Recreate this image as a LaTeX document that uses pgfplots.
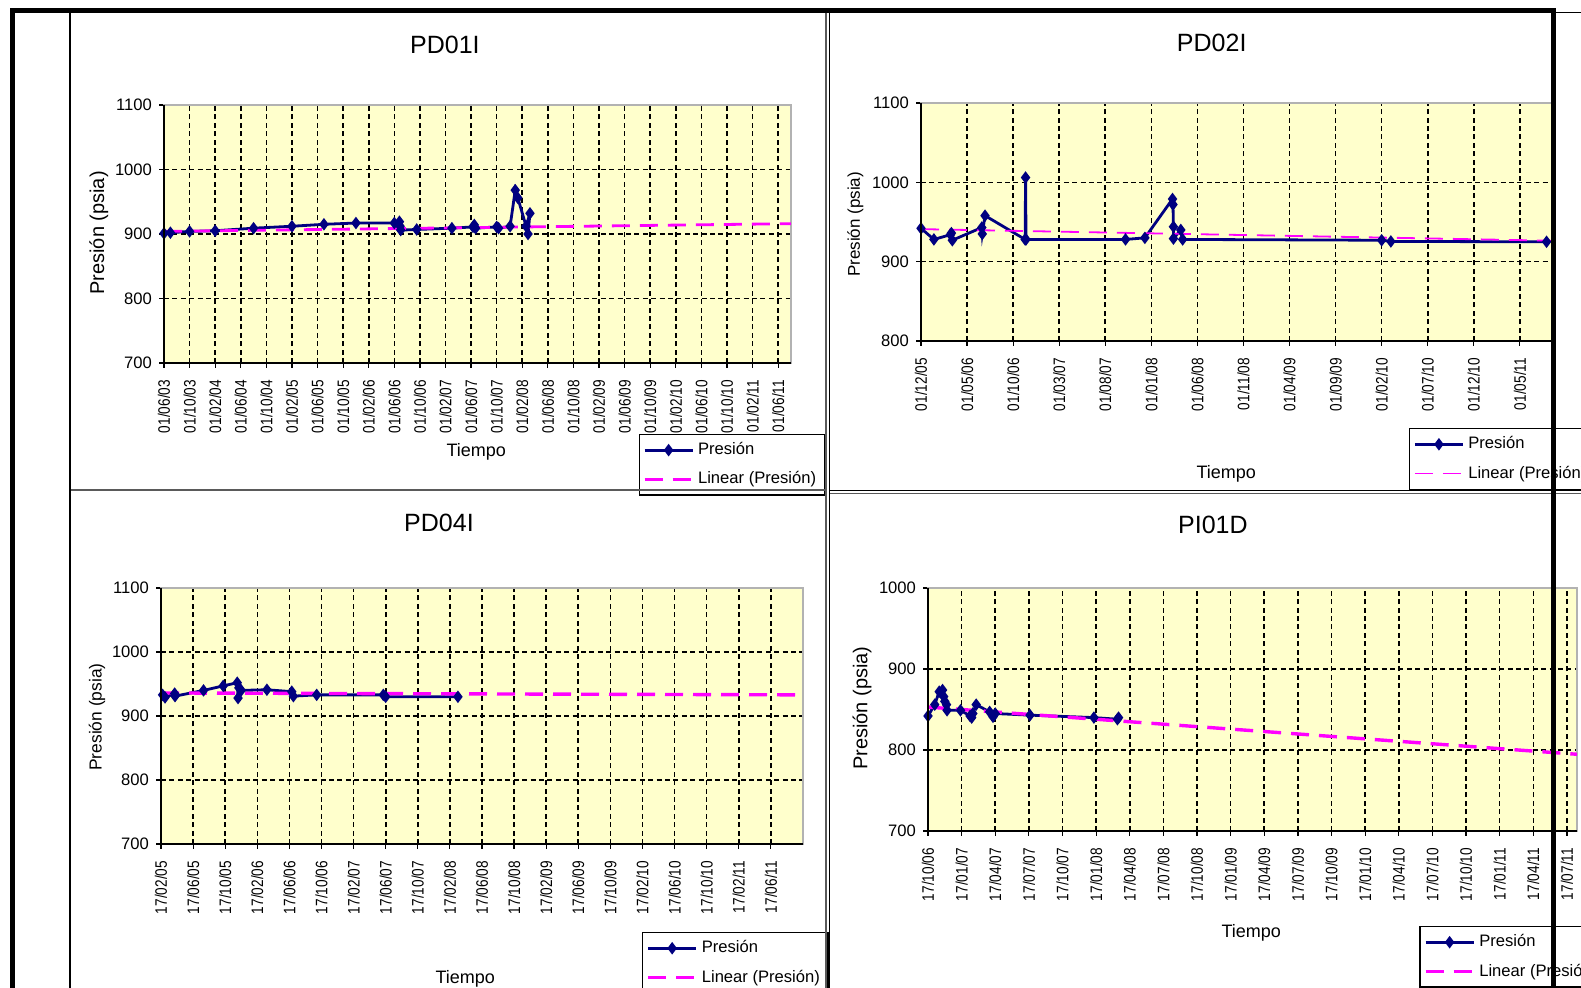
\documentclass[border=0pt]{standalone}
\usepackage{pgfplots}
\pgfplotsset{compat=1.18}
\usepackage{fontspec}
\setmainfont{Liberation Sans}
\newfontfamily\narrowfont{Liberation Sans}[FakeStretch=0.82]

\definecolor{plotyellow}{RGB}{255,255,204}
\definecolor{presion}{RGB}{0,0,128}
\definecolor{trend}{RGB}{255,0,255}
\definecolor{borde}{RGB}{90,90,90}

\pgfplotsset{
  excel/.style={
    scale only axis,
    anchor=south west,
    enlargelimits=false,
    axis background/.style={fill=plotyellow},
    axis line style={draw=gray!60, line width=0.6pt},
    grid=major,
    major grid style={black, line width=0.8pt, dash pattern=on 2.5pt off 1.7pt},
    tick align=outside,
    xtick pos=left, ytick pos=left,
    major tick length=2.5pt,
    tick style={black, line width=0.6pt},
    ytick distance=100,
    /pgf/number format/1000 sep={},
    /pgf/number format/assume math mode=true,
    yticklabel style={font=\fontsize{8.3}{9}\selectfont},
    xticklabel style={font=\narrowfont\fontsize{8.3}{9}\selectfont, rotate=90, anchor=east},
    xticklabel shift=2.5pt,
    xlabel=Tiempo,
    ylabel={Presión (psia)},
    xlabel style={font=\fontsize{9}{10}\selectfont, anchor=center},
    ylabel style={font=\fontsize{10}{11}\selectfont, anchor=center},
    every axis title/.style={font=\fontsize{12.5}{14}\selectfont, anchor=center},
    legend style={draw=black, fill=white, line width=0.6pt, font=\fontsize{8.3}{9.5}\selectfont,
      anchor=north west, inner sep=2pt, row sep=3pt},
    legend cell align=left,
    after end axis/.code={\draw[black, line width=0.7pt] (rel axis cs:0,1) -- (rel axis cs:0,0) -- (rel axis cs:1,0);},
  },
  serie/.style={presion, line width=1.4pt, mark=diamond*, mark size=2pt, mark options={solid},
    legend image code/.code={\draw[mark repeat=2,mark phase=2,##1] plot coordinates {(0pt,0pt) (12pt,0pt) (24pt,0pt)};}},
  tendencia/.style={trend, line width=1.4pt, dash pattern=on 9pt off 5pt,
    legend image code/.code={\draw[##1] (0pt,0pt) -- (24pt,0pt);}},
}

\begin{document}
\begin{tikzpicture}
\useasboundingbox (0,0) rectangle (790.5pt,494pt);
\clip (0,0) rectangle (790.5pt,494pt);

% PD01I
\begin{axis}[excel,
  at={(82pt,312.5pt)}, width=313.5pt, height=129pt,
  xmin=0, xmax=98, ymin=700, ymax=1100,
  xtick={0,4,...,96},
  xticklabels={01/06/03,01/10/03,01/02/04,01/06/04,01/10/04,01/02/05,01/06/05,01/10/05,01/02/06,01/06/06,01/10/06,01/02/07,01/06/07,01/10/07,01/02/08,01/06/08,01/10/08,01/02/09,01/06/09,01/10/09,01/02/10,01/06/10,01/10/10,01/02/11,01/06/11},
  title=PD01I, title style={at={(axis description cs:0.448,1.233)}},
  xlabel style={at={(axis description cs:0.498,-0.345)}},
  ylabel style={at={(axis description cs:-0.104,0.504)}},
  legend style={at={(axis description cs:0.757,-0.275)}},
]
\addplot[serie] coordinates {
  (0,901) (1,902) (4,904) (8,905) (14,909) (20,912) (25,915) (30,917) (36,917)
  (36.8,919) (36.9,912) (37,906) (39.5,907) (45,909) (48.3,911) (48.5,914) (48.7,909)
  (52,911) (52.3,909) (54.1,912) (54.9,968) (55.3,956) (56.6,912) (57.2,932) (56.9,900)
};
\addlegendentry{Presión}
\addplot[tendencia] coordinates {(0,904) (98,916)};
\addlegendentry{Linear (Presión)}
\end{axis}

% PD02I
\begin{axis}[excel,
  at={(460.5pt,323.5pt)}, width=316pt, height=119pt,
  xmin=0, xmax=68.6, ymin=800, ymax=1100,
  xtick={0,5,...,65},
  xticklabels={01/12/05,01/05/06,01/10/06,01/03/07,01/08/07,01/01/08,01/06/08,01/11/08,01/04/09,01/09/09,01/02/10,01/07/10,01/12/10,01/05/11},
  title=PD02I, title style={at={(axis description cs:0.460,1.252)}},
  xlabel style={at={(axis description cs:0.483,-0.560)}},
  ylabel style={at={(axis description cs:-0.104,0.49)}, font=\fontsize{8.5}{9}\selectfont},
  legend style={at={(axis description cs:0.772,-0.366)}},
]
\addplot[serie] coordinates {
  (0,942) (1.4,928) (3.2,934) (3.3,936) (3.4,927) (6.6,943) (6.65,935) (6.95,958)
  (11.3,928) (11.35,1006) (11.4,928) (22.2,928) (24.3,930) (27.3,979) (27.35,972)
  (27.4,944) (27.4,929) (28.2,940) (28.4,928) (50,927) (51,925.5) (67.9,925)
};
\addlegendentry{Presión}
\addplot[tendencia, line width=0.9pt] coordinates {(0,941) (68.6,926.4)};
\addlegendentry{Linear (Presión)}
\end{axis}

% PD04I
\begin{axis}[excel,
  at={(80.5pt,72pt)}, width=321pt, height=128pt,
  xmin=0, xmax=80, ymin=700, ymax=1100,
  xtick={0,4,...,76},
  xticklabels={17/02/05,17/06/05,17/10/05,17/02/06,17/06/06,17/10/06,17/02/07,17/06/07,17/10/07,17/02/08,17/06/08,17/10/08,17/02/09,17/06/09,17/10/09,17/02/10,17/06/10,17/10/10,17/02/11,17/06/11},
  title=PD04I, title style={at={(axis description cs:0.433,1.254)}},
  xlabel style={at={(axis description cs:0.474,-0.525)}},
  ylabel style={at={(axis description cs:-0.0997,0.496)}, font=\fontsize{8.7}{9}\selectfont},
  legend style={at={(axis description cs:0.749,-0.344)}},
]
\addplot[serie] coordinates {
  (0.2,933) (0.5,929) (1.7,935) (1.75,931) (5.3,940) (7.75,947) (9.5,952) (9.6,928)
  (9.7,944) (10,940) (13.2,941) (16.3,938) (16.5,931) (19.4,933) (27.7,933) (28,930) (37,930)
};
\addlegendentry{Presión}
\addplot[tendencia, line width=1.7pt] coordinates {(0,936) (80,933)};
\addlegendentry{Linear (Presión)}
\end{axis}

% PI01D
\begin{axis}[excel,
  at={(464pt,78.5pt)}, width=324.5pt, height=121.5pt,
  xmin=0, xmax=57.9, ymin=700, ymax=1000,
  xtick={0,3,...,57},
  xticklabels={17/10/06,17/01/07,17/04/07,17/07/07,17/10/07,17/01/08,17/04/08,17/07/08,17/10/08,17/01/09,17/04/09,17/07/09,17/10/09,17/01/10,17/04/10,17/07/10,17/10/10,17/01/11,17/04/11,17/07/11},
  title=PI01D, title style={at={(axis description cs:0.439,1.259)}},
  xlabel style={at={(axis description cs:0.498,-0.42)}},
  ylabel style={at={(axis description cs:-0.1017,0.506)}},
  legend style={at={(axis description cs:0.757,-0.391)}},
]
\addplot[serie] coordinates {
  (0,842) (0.6,856) (1.0,872) (1.3,874) (1.4,866) (1.5,860) (1.65,856) (1.7,849)
  (2.9,849) (3.75,842) (3.9,840) (4.0,845) (4.3,856) (5.5,847) (5.8,841) (6,845)
  (9.1,843) (14.8,840) (16.9,838) (17,840)
};
\addlegendentry{Presión}
\addplot[tendencia, line width=1.7pt] coordinates {(0,853) (57.9,794.7)};
\addlegendentry{Linear (Presión)}
\end{axis}

% marcos
\draw[borde, line width=0.7pt] (35pt,249pt) -- (412.9pt,249pt);
\draw[line width=0.7pt] (414.6pt,248.6pt) -- (790.5pt,248.6pt);
\draw[borde, line width=0.7pt] (414.6pt,247.2pt) -- (790.5pt,247.2pt);
\draw[borde, line width=0.7pt] (412.9pt,0) -- (412.9pt,488pt);
\draw[line width=0.7pt] (414.6pt,0) -- (414.6pt,488pt);
\draw[line width=0.7pt] (35pt,0) -- (35pt,488pt);
\draw[line width=0.5pt] (776.75pt,487.6pt) -- (790.5pt,487.6pt);
\draw[line width=2.5pt] (6pt,0) -- (6pt,488.75pt) -- (776.75pt,488.75pt) -- (776.75pt,0);
\end{tikzpicture}
\end{document}
